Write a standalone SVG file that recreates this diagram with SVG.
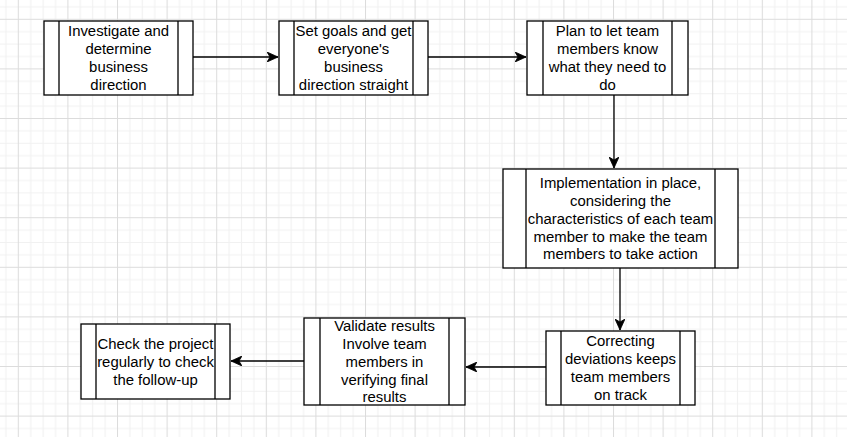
<svg xmlns="http://www.w3.org/2000/svg" width="847" height="437" viewBox="0 0 847 437">
<style>
.box{fill:#fff;stroke:#000;stroke-width:1.3}
.div{fill:none;stroke:#000;stroke-width:1.3}
.lbl{font-family:"Liberation Sans",Arial,Helvetica,sans-serif;font-size:14.9px;fill:#000;text-anchor:middle}
.edge{fill:none;stroke:#000;stroke-width:1.3}
</style>
<defs>
<pattern id="grid" patternUnits="userSpaceOnUse" x="17.8" y="18.8" width="49.6" height="49.6">
<rect width="49.6" height="49.6" fill="#fff"/>
<path d="M12.9 0V49.6M25.3 0V49.6M37.7 0V49.6M0 12.9H49.6M0 25.3H49.6M0 37.7H49.6" stroke="#f1f1f1" stroke-width="1"/>
<path d="M0.5 0V49.6M0 0.5H49.6" stroke="#dcdcdc" stroke-width="1"/>
</pattern>
<marker id="arr" viewBox="0 0 12 10" refX="11" refY="5" markerWidth="12" markerHeight="10" markerUnits="userSpaceOnUse" orient="auto">
<path d="M0 0L11 5L0 10L3 5Z" fill="#000" stroke="#000" stroke-width="0.8" stroke-linejoin="miter"/>
</marker>
</defs>
<rect width="847" height="437" fill="url(#grid)"/>
<g id="connectors">
<path class="edge" d="M193 57H278" marker-end="url(#arr)"/>
<path class="edge" d="M428 57H526" marker-end="url(#arr)"/>
<path class="edge" d="M614 95V168" marker-end="url(#arr)"/>
<path class="edge" d="M620 268V330" marker-end="url(#arr)"/>
<path class="edge" d="M546 367H466" marker-end="url(#arr)"/>
<path class="edge" d="M304 361H231" marker-end="url(#arr)"/>
</g>
<g id="n1">
<rect class="box" x="44" y="21" width="149" height="74"/>
<path class="div" d="M59 21V95M178 21V95"/>
<text class="lbl" x="118.5"><tspan x="118.5" y="36.4">Investigate and</tspan><tspan x="118.5" y="54.2">determine</tspan><tspan x="118.5" y="72.1">business</tspan><tspan x="118.5" y="90">direction</tspan></text>
</g>
<g id="n2">
<rect class="box" x="279" y="21" width="149" height="74"/>
<path class="div" d="M294 21V95M413 21V95"/>
<text class="lbl" x="353.5"><tspan x="353.5" y="36.4">Set goals and get</tspan><tspan x="353.5" y="54.2">everyone's</tspan><tspan x="353.5" y="72.1">business</tspan><tspan x="353.5" y="90">direction straight</tspan></text>
</g>
<g id="n3">
<rect class="box" x="527" y="21" width="161" height="74"/>
<path class="div" d="M543 21V95M672 21V95"/>
<text class="lbl" x="607.5"><tspan x="607.5" y="36.4">Plan to let team</tspan><tspan x="607.5" y="54.2">members know</tspan><tspan x="607.5" y="72.1">what they need to</tspan><tspan x="607.5" y="90">do</tspan></text>
</g>
<g id="n4">
<rect class="box" x="503" y="169" width="235" height="99"/>
<path class="div" d="M526 169V268M715 169V268"/>
<text class="lbl" x="620.5"><tspan x="620.5" y="188">Implementation in place,</tspan><tspan x="620.5" y="205.8">considering the</tspan><tspan x="620.5" y="223.7">characteristics of each team</tspan><tspan x="620.5" y="241.5">member to make the team</tspan><tspan x="620.5" y="259.4">members to take action</tspan></text>
</g>
<g id="n5">
<rect class="box" x="546" y="331" width="149" height="74"/>
<path class="div" d="M561 331V405M680 331V405"/>
<text class="lbl" x="620.5"><tspan x="620.5" y="346.4">Correcting</tspan><tspan x="620.5" y="364.2">deviations keeps</tspan><tspan x="620.5" y="382.1">team members</tspan><tspan x="620.5" y="400">on track</tspan></text>
</g>
<g id="n6">
<rect class="box" x="304" y="318" width="161" height="87"/>
<path class="div" d="M320 318V405M449 318V405"/>
<text class="lbl" x="384.5"><tspan x="384.5" y="331">Validate results</tspan><tspan x="384.5" y="348.8">Involve team</tspan><tspan x="384.5" y="366.7">members in</tspan><tspan x="384.5" y="384.5">verifying final</tspan><tspan x="384.5" y="402.4">results</tspan></text>
</g>
<g id="n7">
<rect class="box" x="81" y="324" width="149" height="75"/>
<path class="div" d="M96 324V399M215 324V399"/>
<text class="lbl" x="155.5"><tspan x="155.5" y="348.8">Check the project</tspan><tspan x="155.5" y="366.7">regularly to check</tspan><tspan x="155.5" y="384.5">the follow-up</tspan></text>
</g>
</svg>
